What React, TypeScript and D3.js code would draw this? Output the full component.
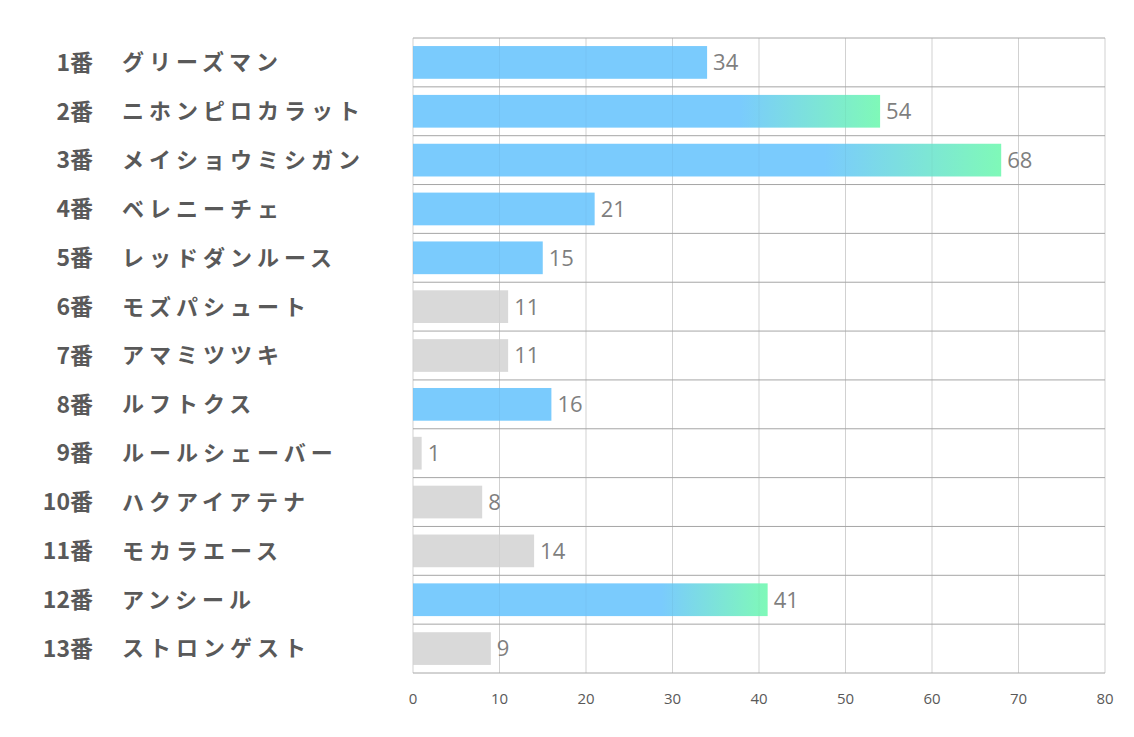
import * as d3 from "d3";

const numbers = ["1番", "2番", "3番", "4番", "5番", "6番", "7番", "8番", "9番", "10番", "11番", "12番", "13番"];
const horses = [
  "グリーズマン", "ニホンピロカラット", "メイショウミシガン", "ベレニーチェ", "レッドダンルース",
  "モズパシュート", "アマミツツキ", "ルフトクス", "ルールシェーバー", "ハクアイアテナ",
  "モカラエース", "アンシール", "ストロンゲスト",
];
const values = [34, 54, 68, 21, 15, 11, 11, 16, 1, 8, 14, 41, 9];
const highlighted = [true, true, true, true, true, false, false, true, false, false, false, true, false];
const xTicks = [0, 10, 20, 30, 40, 50, 60, 70, 80];

const W = 1134;
const H = 737;
const left = 413;
const right = 1105;
const top = 38;
const bottom = 673;

const BLUE = "#7acbfd";
const GREEN = "#7ff9b8";
const GRAY = "#d9d9d9";

export default function App() {
  const x = d3.scaleLinear().domain([0, 80]).range([left, right]);
  const y = d3.scaleBand<number>().domain(d3.range(values.length)).range([top, bottom]);
  const barH = y.bandwidth() * 0.67;

  return (
    <svg width={W} height={H} style={{ position: "absolute", left: 0, top: 0, background: "#fff" }}>
      <defs>
        <linearGradient id="hot" x1="0" x2="1" y1="0" y2="0">
          <stop offset="0.7" stopColor={BLUE} />
          <stop offset="1" stopColor={GREEN} />
        </linearGradient>
      </defs>
      {/* vertical grid */}
      {xTicks.map((t) => (
        <line key={"v" + t} x1={x(t)} x2={x(t)} y1={top} y2={bottom} stroke="#d9d9d9" strokeWidth={1} />
      ))}
      {/* bars */}
      {values.map((v, i) => {
        const yy = (y(i) as number) + (y.bandwidth() - barH) / 2;
        const fill = !highlighted[i] ? GRAY : v >= 40 ? "url(#hot)" : BLUE;
        return (
          <g key={"b" + i}>
            <rect x={x(0)} y={yy} width={x(v) - x(0)} height={barH} fill={fill} />
            <text
              x={x(v) + 6}
              y={yy + barH / 2}
              dy="0.36em"
              fontFamily="'Open Sans', 'Liberation Sans', sans-serif"
              fontSize={22}
              fill="#7f7f7f"
            >
              {v}
            </text>
          </g>
        );
      })}
      {/* grid lines showing faintly through bars */}
      {xTicks.map((t) => (
        <line key={"vo" + t} x1={x(t)} x2={x(t)} y1={top} y2={bottom} stroke="#000" strokeOpacity={0.035} />
      ))}
      {/* horizontal row lines */}
      {d3.range(values.length + 1).map((i) => {
        const yy = i < values.length ? (y(i) as number) : bottom;
        return <line key={"h" + i} x1={left} x2={right} y1={yy} y2={yy} stroke="#a6a6a6" strokeWidth={1} />;
      })}
      {/* tick labels */}
      {xTicks.map((t) => (
        <text
          key={"t" + t}
          x={x(t)}
          y={bottom + 26}
          dy="0.35em"
          textAnchor="middle"
          fontFamily="'Open Sans', 'Liberation Sans', sans-serif"
          fontSize={15}
          fill="#595959"
        >
          {t}
        </text>
      ))}
      {/* category labels */}
      {values.map((_, i) => {
        const cy = (y(i) as number) + y.bandwidth() / 2;
        return (
          <g key={"l" + i} fontFamily="'Noto Sans CJK JP', sans-serif" fontWeight="bold" fill="#595959">
            <text x={93} y={cy} dy="0.36em" textAnchor="end" fontSize={23}>
              {numbers[i]}
            </text>
            <text x={122} y={cy} dy="0.36em" fontSize={22} letterSpacing={5}>
              {horses[i]}
            </text>
          </g>
        );
      })}
    </svg>
  );
}
